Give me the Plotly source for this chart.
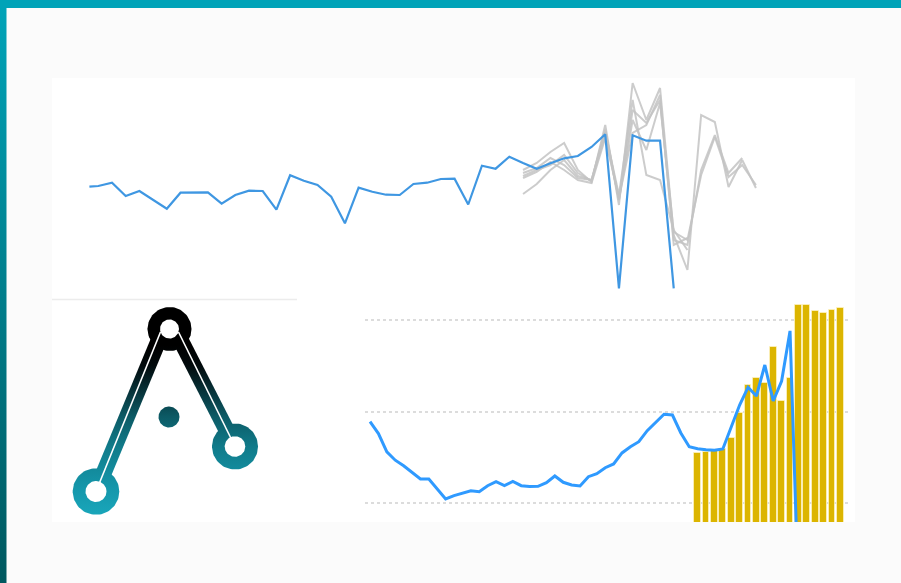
import numpy as np
import plotly.graph_objects as go

W, H = 901, 583

# ---------------- top chart data ----------------
top_t = [-0.65, 0, 1, 2, 3, 5, 6, 8, 9, 10, 11, 12, 13, 14, 15, 16, 17, 18, 19, 20, 21,
         22, 23, 24, 25, 26, 27, 28, 29, 30, 31, 32, 33, 34, 35, 36, 37, 38, 39, 40, 41, 42]
top_actual = [103.3, 104, 107.3, 94, 99, 81.3, 97.3, 97.7, 86.3, 95, 99.3, 99, 80.3, 114.7,
              109.3, 105, 93.3, 66.7, 102.3, 98.3, 95.3, 95, 106, 107.3, 111, 111.3, 85.5,
              124.3, 121.3, 133.3, 127, 121.3, 126.7, 131.7, 134, 143, 155.7, 1.7, 154.7,
              149.3, 149.3, 1.7]

fc_t_long = list(range(31, 49))
fc_t_mid = list(range(31, 48))
fc_t_short = list(range(31, 44))
forecast_1 = [120, 127, 138, 147, 120, 108, 165, 85, 207, 170, 202, 55, 20, 175, 168, 103, 130, 102]
forecast_2 = [117, 122, 132, 125, 112, 110, 160, 90, 170, 140, 187, 58, 50, 115, 153, 113, 125, 105]
forecast_3 = [112, 118, 128, 120, 110, 107, 152, 92, 157, 165, 195, 45, 52]
forecast_4 = [96, 106, 120, 130, 114, 110, 158, 95, 190, 115, 110, 60, 40]
forecast_5 = [114, 120, 125, 135, 117, 109, 155, 91, 180, 167, 190, 50, 45, 120, 155, 117, 132]

# ---------------- bottom chart data ----------------
bot_k = list(range(0, 52))
bot_line = [189, 176, 156, 147, 141, 134, 126.5, 126.5, 115.6, 104.7, 108.3, 110.9, 113.7,
            112.7, 119.2, 123.6, 119.4, 123.8, 119.2, 118.3, 118.5, 122.5, 129.8, 122.9, 120,
            118.9, 129, 132.3, 138.8, 142.9, 154.9, 161.7, 167.2, 179.2, 188.7, 197.1, 196.3,
            176.7, 161.7, 159.5, 158.5, 157.8, 159.2, 183.2, 207.2, 226.5, 217, 250.8, 211.6,
            233.4, 288, 0]
bar_k = list(range(39, 57))
bar_vals = [154.5, 156.3, 157, 158.9, 171.5, 198.8, 229, 236.3, 231.5, 270.8, 211.6, 236.3,
            316.2, 316.2, 310, 307.2, 310.8, 313.3]
grid_vals = [100, 200, 300]

# ---------------- logo geometry (own coordinate space) ----------------
ring_x = [169.5, 96, 235]
ring_y = [329, 491.5, 446.5]
ring_outer = [22, 23.3, 23]
ring_inner = [9.5, 10.5, 10.3]
dot_xyr = [169, 417, 10.5]
leg_top_x = [160.5, 178.5]
leg_top_y = [336, 336]
leg_width = 16

logo_scale = [[0, '#000000'], [0.12, '#020a0c'], [0.42, '#0c5a65'],
              [0.6, '#107b8a'], [0.85, '#1598ac'], [1, '#19a6ba']]
grad = dict(type='vertical', colorscale=logo_scale, start=345, stop=515)


def circle(cx, cy, r, n=90):
    a = np.linspace(0, 2 * np.pi, n)
    return list(cx + r * np.cos(a)), list(cy + r * np.sin(a))


fig = go.Figure()

# left gradient border
fig.add_trace(go.Scatter(x=[0, 6.5, 6.5, 0, 0], y=[0, 0, H, H, 0], xaxis='x4', yaxis='y4',
                         mode='lines', line=dict(width=0), fill='toself',
                         fillgradient=dict(type='vertical',
                                           colorscale=[[0, '#00a4b9'], [1, '#00585f']],
                                           start=0, stop=H),
                         hoverinfo='skip', showlegend=False))

# top chart
for xs, ys in [(fc_t_long, forecast_1), (fc_t_long, forecast_2), (fc_t_short, forecast_3),
               (fc_t_short, forecast_4), (fc_t_mid, forecast_5)]:
    fig.add_trace(go.Scatter(x=xs, y=ys, mode='lines', xaxis='x', yaxis='y',
                             line=dict(color='rgba(195,195,195,0.85)', width=2),
                             showlegend=False, hoverinfo='skip'))
fig.add_trace(go.Scatter(x=top_t, y=top_actual, mode='lines', xaxis='x', yaxis='y',
                         line=dict(color='#3f97e2', width=2.2), showlegend=False))

# bottom chart
fig.add_trace(go.Bar(x=bar_k, y=bar_vals, xaxis='x2', yaxis='y2', width=0.8,
                     marker=dict(color='#dcb500', line=dict(color='rgba(255,245,200,0.7)', width=1)),
                     showlegend=False))
fig.add_trace(go.Scatter(x=bot_k, y=bot_line, mode='lines', xaxis='x2', yaxis='y2',
                         line=dict(color='#2f9aff', width=3), showlegend=False))

# logo: legs
for i in range(2):
    x0, y0 = leg_top_x[i], leg_top_y[i]
    x1, y1 = ring_x[i + 1], ring_y[i + 1]
    d = np.array([x1 - x0, y1 - y0])
    d = d / np.linalg.norm(d)
    p = np.array([-d[1], d[0]]) * leg_width / 2
    xs = [x0 + p[0], x1 + p[0], x1 - p[0], x0 - p[0], x0 + p[0]]
    ys = [y0 + p[1], y1 + p[1], y1 - p[1], y0 - p[1], y0 + p[1]]
    fig.add_trace(go.Scatter(x=xs, y=ys, xaxis='x3', yaxis='y3', mode='lines',
                             line=dict(width=0), fill='toself', fillgradient=grad,
                             showlegend=False, hoverinfo='skip'))
# rings outer discs and dot
for cx, cy, r in list(zip(ring_x, ring_y, ring_outer)) + [tuple(dot_xyr)]:
    xs, ys = circle(cx, cy, r)
    fig.add_trace(go.Scatter(x=xs, y=ys, xaxis='x3', yaxis='y3', mode='lines',
                             line=dict(width=0), fill='toself', fillgradient=grad,
                             showlegend=False, hoverinfo='skip'))
# white inner lines
for i in range(2):
    fig.add_trace(go.Scatter(x=[leg_top_x[i], ring_x[i + 1]], y=[leg_top_y[i] - 4, ring_y[i + 1]],
                             xaxis='x3', yaxis='y3', mode='lines',
                             line=dict(color='white', width=1.6), showlegend=False, hoverinfo='skip'))
# holes
for cx, cy, r in zip(ring_x, ring_y, ring_inner):
    xs, ys = circle(cx, cy, r)
    fig.add_trace(go.Scatter(x=xs, y=ys, xaxis='x3', yaxis='y3', mode='lines',
                             line=dict(width=0), fill='toself', fillcolor='white',
                             showlegend=False, hoverinfo='skip'))


def dx(p):
    return p / W


def dy(p):
    return 1 - p / H


hidden = dict(visible=False, fixedrange=True)
fig.update_layout(
    width=W, height=H, autosize=False,
    margin=dict(l=0, r=0, t=0, b=0),
    paper_bgcolor='#fbfbfb', plot_bgcolor='rgba(0,0,0,0)',
    hovermode=False,
    xaxis=dict(domain=[dx(52), dx(855)], range=[-3.38, 55.23], **hidden),
    yaxis=dict(domain=[dy(298), dy(78)], range=[-8, 212], **hidden),
    xaxis2=dict(domain=[dx(365), dx(850)], range=[-0.6, 57.14], **hidden),
    yaxis2=dict(domain=[dy(522), dy(300)], range=[79.6, 321.7], showgrid=True,
                gridcolor='#dcdcdc', griddash='dot', gridwidth=1.5, tickvals=grid_vals,
                showticklabels=False, ticks='', zeroline=False, showline=False, fixedrange=True),
    xaxis3=dict(domain=[dx(52), dx(297)], range=[52, 297], **hidden),
    yaxis3=dict(domain=[dy(522), dy(300)], range=[522, 300], **hidden),
    xaxis4=dict(domain=[0, 1], range=[0, W], **hidden),
    yaxis4=dict(domain=[0, 1], range=[H, 0], **hidden),
    bargap=0,
    shapes=[
        dict(type='rect', xref='paper', yref='paper', x0=dx(52), x1=dx(855), y0=dy(522), y1=dy(78),
             fillcolor='#ffffff', line=dict(width=0), layer='below'),
        dict(type='line', xref='paper', yref='paper', x0=dx(52), x1=dx(297), y0=dy(299.5), y1=dy(299.5),
             line=dict(color='#ececec', width=1.5), layer='below'),
        dict(type='rect', xref='paper', yref='paper', x0=0, x1=1, y0=dy(8), y1=1,
             fillcolor='#00a3b8', line=dict(width=0), layer='above'),
    ],
)

fig.write_html("out.html", config={'displayModeBar': False},
               post_script="document.body.style.margin='0';")
